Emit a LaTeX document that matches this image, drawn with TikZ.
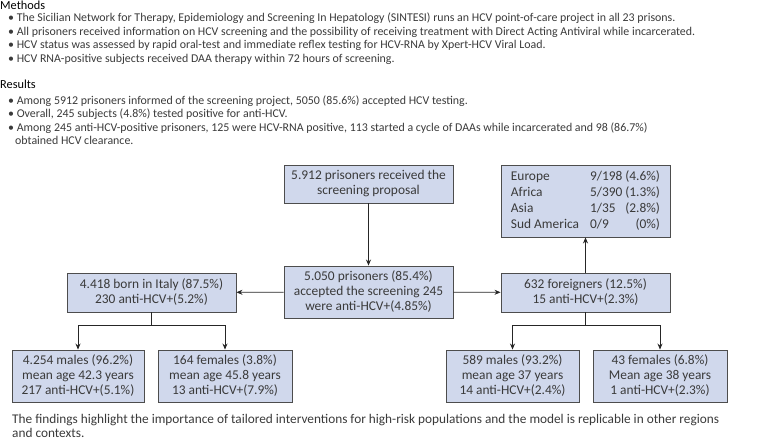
\documentclass[tikz,border=0pt]{standalone}
\usepackage{fontspec}
\setmainfont{Carlito}
\usetikzlibrary{arrows.meta}
\definecolor{boxfill}{HTML}{D0D8EC}
\definecolor{boxline}{HTML}{4D4D4D}
\definecolor{txt}{HTML}{3A3A3A}
\tikzset{
  flowbox/.style={draw=boxline, fill=boxfill, line width=0.9pt, align=center,
    text=txt, font=\fontsize{13.4}{15}\selectfont, inner sep=2pt},
  textline/.style={anchor=base west, text=txt, font=\fontsize{11.9}{13}\selectfont, inner sep=0pt},
  heading/.style={anchor=base west, text=black, font=\fontsize{12.3}{14}\selectfont, inner sep=0pt},
  flowarrow/.style={-{Stealth[length=6pt,width=5pt]}, line width=0.7pt, draw=black!85}
}
\begin{document}
\begin{tikzpicture}[x=1pt,y=-1pt]
    \useasboundingbox (0,0) rectangle (780,443);
    % methods and results
    \node[heading] (meth) at (0,9.5) {Methods};
    \node[textline] (m1) at (8,22) {\textbullet\ The Sicilian Network for Therapy, Epidemiology and Screening In Hepatology (SINTESI) runs an HCV point-of-care project in all 23 prisons.};
    \node[textline] (m2) at (8,35.3) {\textbullet\ All prisoners received information on HCV screening and the possibility of receiving treatment with Direct Acting Antiviral while incarcerated.};
    \node[textline] (m3) at (8,48.8) {\textbullet\ HCV status was assessed by rapid oral-test and immediate reflex testing for HCV-RNA by Xpert-HCV Viral Load.};
    \node[textline] (m4) at (8,62.3) {\textbullet\ HCV RNA-positive subjects received DAA therapy within 72 hours of screening.};
    \node[heading] (res) at (0,88.5) {Results};
    \node[textline] (r1) at (8,105) {\textbullet\ Among 5912 prisoners informed of the screening project, 5050 (85.6\%) accepted HCV testing.};
    \node[textline] (r2) at (8,118) {\textbullet\ Overall, 245 subjects (4.8\%) tested positive for anti-HCV.};
    \node[textline] (r3) at (8,131.3) {\textbullet\ Among 245 anti-HCV-positive prisoners, 125 were HCV-RNA positive, 113 started a cycle of DAAs while incarcerated and 98 (86.7\%)};
    \node[textline] (r4) at (15,144.8) {obtained HCV clearance.};
    % flow chart
    \node[flowbox, minimum width=169, minimum height=38] (prop) at (368.5,184) {5.912 prisoners received the\\screening proposal};
    \node[flowbox, minimum width=169, minimum height=52] (accept) at (368.5,292) {5.050 prisoners (85.4\%)\\accepted the screening 245\\were anti-HCV+(4.85\%)};
    \node[flowbox, minimum width=169, minimum height=39] (italy) at (151.5,292.5) {4.418 born in Italy (87.5\%)\\230 anti-HCV+(5.2\%)};
    \node[flowbox, minimum width=169, minimum height=39] (foreign) at (585.5,292.5) {632 foreigners (12.5\%)\\15 anti-HCV+(2.3\%)};
    \node[flowbox, minimum width=169, minimum height=72] (region) at (585.5,201) {\def\arraystretch{1.07}\begin{tabular}{@{}l@{\hspace{11pt}}l@{\hspace{3pt}}r@{}}
        Europe & 9/198 & (4.6\%)\\
        Africa & 5/390 & (1.3\%)\\
        Asia & 1/35 & (2.8\%)\\
        Sud America & 0/9 & (0\%)
      \end{tabular}};
    \node[flowbox, minimum width=132, minimum height=52] (itmale) at (78,376) {4.254 males (96.2\%)\\mean age 42.3 years\\217 anti-HCV+(5.1\%)};
    \node[flowbox, minimum width=134, minimum height=52] (itfemale) at (225,376) {164 females (3.8\%)\\mean age 45.8 years\\13 anti-HCV+(7.9\%)};
    \node[flowbox, minimum width=133, minimum height=52] (fomale) at (512.5,376) {589 males (93.2\%)\\mean age 37 years\\14 anti-HCV+(2.4\%)};
    \node[flowbox, minimum width=134, minimum height=52] (fofemale) at (660,376) {43 females (6.8\%)\\Mean age 38 years\\1 anti-HCV+(2.3\%)};
    \draw[flowarrow] (prop) -- (accept);
    \draw[flowarrow] (accept) -- (italy);
    \draw[flowarrow] (accept) -- (foreign);
    \draw[flowarrow] (foreign) -- (region);
    \draw[line width=0.7pt, draw=black!85] (italy.south) -- ++(0,13) coordinate (itsplit);
    \draw[flowarrow] (itsplit) -| (itmale.north);
    \draw[flowarrow] (itsplit) -| (itfemale.north);
    \draw[line width=0.7pt, draw=black!85] (foreign.south) -- ++(0,13) coordinate (fosplit);
    \draw[flowarrow] (fosplit) -| (fomale.north);
    \draw[flowarrow] (fosplit) -| (fofemale.north);
    % conclusion
    \node[textline, font=\fontsize{13.3}{15}\selectfont] (concl1) at (12,423.3) {The findings highlight the importance of tailored interventions for high-risk populations and the model is replicable in other regions};
    \node[textline, font=\fontsize{13.3}{15}\selectfont] (concl2) at (12,437.7) {and contexts.};
\end{tikzpicture}
\end{document}
